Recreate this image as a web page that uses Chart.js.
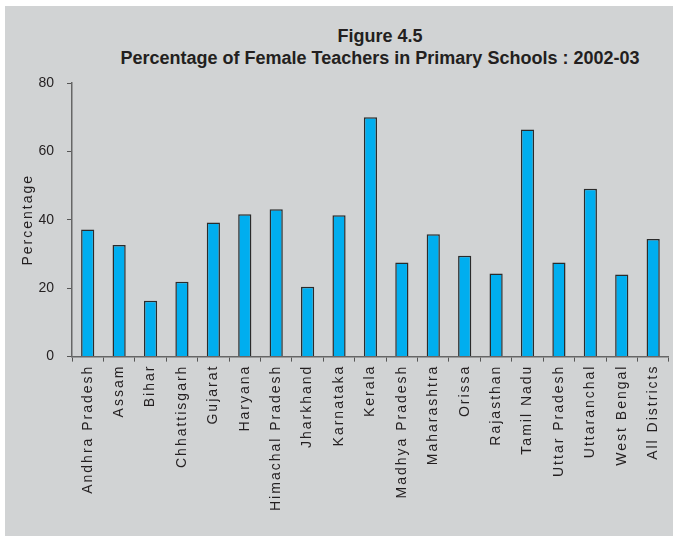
<!DOCTYPE html>
<html>
<head>
<meta charset="utf-8">
<script src="https://cdn.jsdelivr.net/npm/chart.js@4/dist/chart.umd.min.js"></script>
<style>
  body { margin: 0; background: #fff; }
  #wrap { position: relative; width: 673px; height: 536px; overflow: hidden; }
  #panel { position: absolute; left: 5px; top: 6px; right: 0; bottom: 0; background: #d1d3d4; }
  #title { position: absolute; left: 80px; width: 600px; top: 25px; text-align: center;
           font: bold 18px "Liberation Sans", Arial, sans-serif; color: #231f20; line-height: 22px; }
  #myChart { position: absolute; left: 0; top: 0; }
</style>
</head>
<body>
<div id="wrap">
  <div id="panel"></div>
  <div id="title">Figure 4.5<br>Percentage of Female Teachers in Primary Schools : 2002-03</div>
  <canvas id="myChart" width="673" height="536"></canvas>
</div>
<script>
let states = ['Andhra Pradesh', 'Assam', 'Bihar', 'Chhattisgarh', 'Gujarat', 'Haryana',
  'Himachal Pradesh', 'Jharkhand', 'Karnataka', 'Kerala', 'Madhya Pradesh', 'Maharashtra',
  'Orissa', 'Rajasthan', 'Tamil Nadu', 'Uttar Pradesh', 'Uttaranchal', 'West Bengal', 'All Districts'];

let femalePct = [37.2, 32.6, 16.3, 21.9, 39.2, 41.6, 43.1, 20.4, 41.3, 70.0,
  27.5, 35.8, 29.5, 24.3, 66.4, 27.5, 49.1, 24.0, 34.4];

let yTicks = [0, 20, 40, 60, 80];

// canvas loses letterSpacing whenever it is resized, so set it again before layout/draw
function setSpacing(chart){
    chart.ctx.letterSpacing = '2px';
}
let spacingPlugin = {
    id: 'spacing',
    beforeUpdate: setSpacing,
    beforeLayout: setSpacing,
    beforeDraw: setSpacing,
    afterLayout: function(chart){
        // y tick numbers are not spaced out in the original
        let yScale = chart.scales.y;
        if (yScale._plainLabels) return;
        let orig = yScale.drawLabels;
        yScale.drawLabels = function(area){
            chart.ctx.letterSpacing = '0px';
            orig.call(this, area);
            chart.ctx.letterSpacing = '2px';
        };
        yScale._plainLabels = true;
    }
};

let data = {
    labels: states,
    datasets: [{
      label: 'Percentage',
      data: femalePct,
      backgroundColor: '#00aeef',
      borderColor: '#2b2b2b',
      borderWidth: 1.5,
      categoryPercentage: 1,
      barPercentage: 0.42
    }]
  };

let axisFont = { family: '"Liberation Sans", Arial, sans-serif', size: 14 };

let config = {
    type: 'bar',
    data: data,
    plugins: [spacingPlugin],
    options: {
      responsive: false,
      animation: false,
      layout: { padding: { top: 83, right: 1, bottom: 22, left: 20 } },
      plugins: {
        legend: { display: false },
        tooltip: { enabled: false }
      },
      scales: {
        x: {
          grid: { drawOnChartArea: false, tickLength: 5, color: '#555', offset: true },
          border: { color: '#666', width: 1.5 },
          ticks: { color: '#231f20', font: axisFont, maxRotation: 90, minRotation: 90, autoSkip: false, padding: 3 }
        },
        y: {
          min: 0,
          max: 80,
          afterBuildTicks: function(scale){
            scale.ticks = yTicks.map(function(v){ return { value: v }; });
          },
          afterFit: function(scale){
            scale.width = 52;
          },
          grid: { drawOnChartArea: false, tickLength: 5, color: '#555' },
          border: { color: '#666', width: 1.5 },
          ticks: { color: '#231f20', font: axisFont, padding: 13 },
          title: { display: true, text: 'Percentage', color: '#231f20', font: axisFont, padding: { top: 0, bottom: 0 } }
        }
      }
    }
  };

let myChart = new Chart(document.getElementById('myChart'), config);
</script>
</body>
</html>
